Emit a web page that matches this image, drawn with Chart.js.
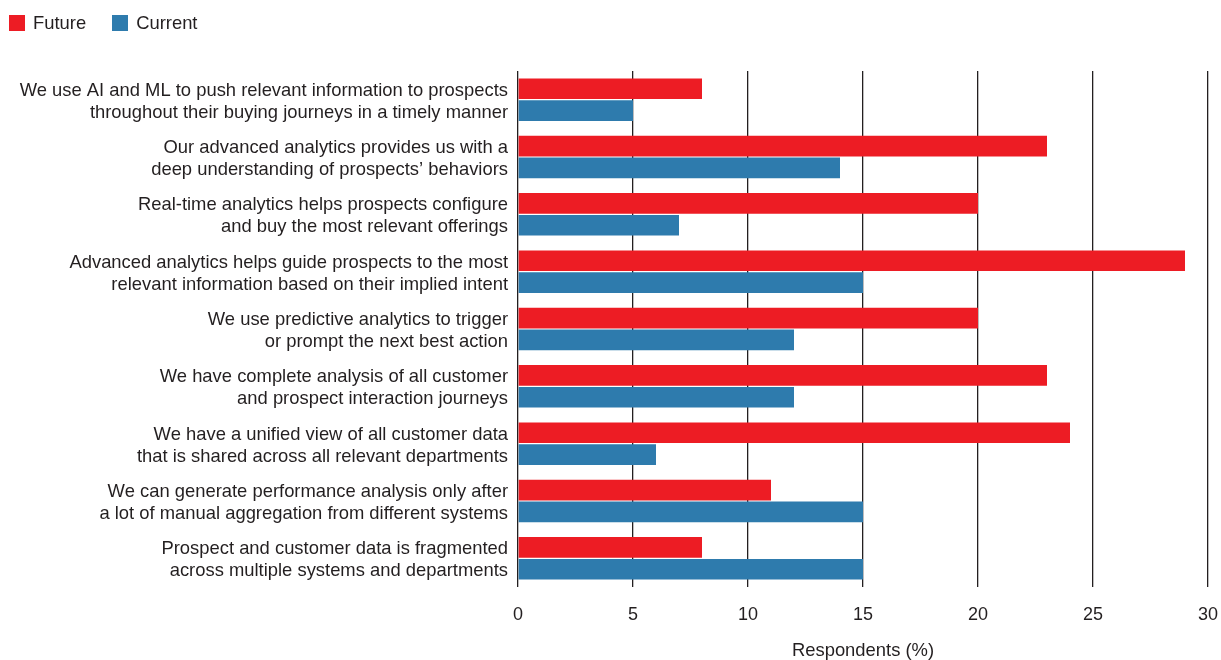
<!DOCTYPE html>
<html>
<head>
<meta charset="utf-8">
<script src="https://cdn.jsdelivr.net/npm/chart.js@4/dist/chart.umd.min.js"></script>
<style>
  html, body { margin: 0; padding: 0; background: #fff; }
  #wrap { position: relative; width: 1221px; height: 660px; }
  #legend { position: absolute; left: 9px; top: 12px; display: flex; font-family: "Liberation Sans", Arial, sans-serif; font-size: 18.4px; line-height: 22px; color: #231f20; }
  #legend .item { display: flex; align-items: center; margin-right: 26px; }
  #legend .box { width: 16px; height: 16px; margin-right: 8px; }
</style>
</head>
<body>
<div id="wrap">
  <canvas id="chart" width="1221" height="660"></canvas>
  <div id="legend"></div>
</div>
<script>
const categories = [
  ["We use AI and ML to push relevant information to prospects", "throughout their buying journeys in a timely manner"],
  ["Our advanced analytics provides us with a", "deep understanding of prospects\u2019 behaviors"],
  ["Real-time analytics helps prospects configure", "and buy the most relevant offerings"],
  ["Advanced analytics helps guide prospects to the most", "relevant information based on their implied intent"],
  ["We use predictive analytics to trigger", "or prompt the next best action"],
  ["We have complete analysis of all customer", "and prospect interaction journeys"],
  ["We have a unified view of all customer data", "that is shared across all relevant departments"],
  ["We can generate performance analysis only after", "a lot of manual aggregation from different systems"],
  ["Prospect and customer data is fragmented", "across multiple systems and departments"]
];
const futureValues = [8, 23, 20, 29, 20, 23, 24, 11, 8];
const currentValues = [5, 14, 7, 15, 12, 12, 6, 15, 15];
const xTicks = [0, 5, 10, 15, 20, 25, 30];
const seriesNames = ["Future", "Current"];
const seriesColors = ["#ed1c24", "#2e7bad"];

const FONT = "'Liberation Sans', Arial, sans-serif";
const INK = "#231f20";

// Builds the legend as HTML from the chart's own legend items
const htmlLegend = {
  id: "htmlLegend",
  afterUpdate(chart) {
    const el = document.getElementById("legend");
    el.innerHTML = "";
    const items = chart.options.plugins.legend.labels.generateLabels(chart);
    items.forEach(it => {
      const d = document.createElement("div");
      d.className = "item";
      const b = document.createElement("span");
      b.className = "box";
      b.style.background = it.fillStyle;
      const t = document.createElement("span");
      t.textContent = it.text;
      d.appendChild(b);
      d.appendChild(t);
      el.appendChild(d);
    });
  }
};

new Chart(document.getElementById("chart"), {
  type: "bar",
  data: {
    labels: categories,
    datasets: [
      { label: seriesNames[0], data: futureValues, backgroundColor: seriesColors[0] },
      { label: seriesNames[1], data: currentValues, backgroundColor: seriesColors[1] }
    ]
  },
  options: {
    indexAxis: "y",
    responsive: false,
    animation: false,
    categoryPercentage: 0.76,
    barPercentage: 0.95,
    layout: { padding: { top: 71, right: 0, bottom: 0, left: 0 } },
    plugins: {
      legend: { display: false },
      tooltip: { enabled: false }
    },
    scales: {
      x: {
        min: 0,
        max: 30,
        afterBuildTicks(scale) { scale.ticks = xTicks.map(v => ({ value: v })); },
        afterFit(scale) {
          scale.height = 73;
          scale.paddingLeft = 0;
          scale.paddingRight = 13;
        },
        grid: { color: "#231f20", lineWidth: 1.3, drawTicks: false },
        border: { display: false },
        ticks: { padding: 17, color: INK, font: { family: FONT, size: 18 } },
        title: {
          display: true,
          text: "Respondents (%)",
          color: INK,
          font: { family: FONT, size: 18.4, lineHeight: 1.0 },
          padding: { top: 0, bottom: 0 }
        }
      },
      y: {
        afterFit(scale) { scale.width = 518; },
        grid: { display: false, drawTicks: false },
        border: { display: false },
        ticks: { padding: 10, labelOffset: 2, color: INK, font: { family: FONT, size: 18.4, lineHeight: 1.2 } }
      }
    }
  },
  plugins: [htmlLegend]
});
</script>
</body>
</html>
